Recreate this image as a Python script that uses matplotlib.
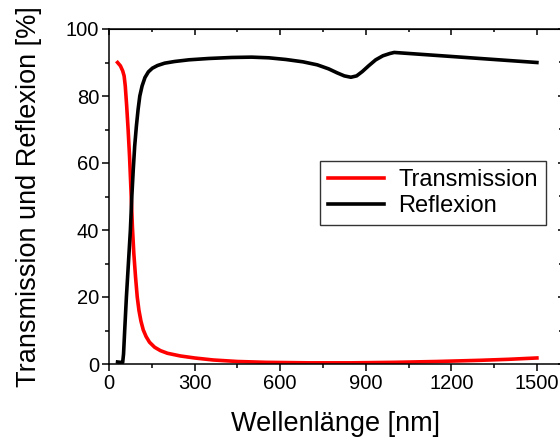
import numpy as np
import matplotlib
matplotlib.use('Agg')
import matplotlib.pyplot as plt
from matplotlib.ticker import MultipleLocator

plt.rcParams['font.family'] = ['Liberation Sans', 'DejaVu Sans']

# Transmission (red)
wl_trans = [30, 40, 48, 53, 57, 62, 67, 72, 77, 82, 87, 93, 99, 105, 112,
            120, 130, 142, 160, 180, 205, 250, 300, 365, 450, 550, 700, 850,
            1000, 1150, 1300, 1400, 1500]
transmission = [90, 89, 87.5, 86, 83, 77, 70, 62, 52, 41, 33, 26, 20, 16,
                 12.8, 10.2, 8.2, 6.5, 5.0, 4.0, 3.2, 2.4, 1.8, 1.2, 0.75,
                 0.5, 0.35, 0.35, 0.5, 0.75, 1.1, 1.4, 1.8]

# Reflexion (black)
wl_refl = [30, 40, 48, 51, 55, 61, 68, 75, 80, 85, 90, 96, 102, 108, 116,
           126, 138, 152, 170, 195, 230, 280, 350, 430, 500, 560, 620, 680,
           730, 770, 800, 825, 848, 868, 888, 910, 935, 960, 985, 1000, 1100,
           1200, 1300, 1400, 1500]
reflexion = [0.6, 0.5, 0.5, 3, 10, 20, 30, 40, 50, 58, 65, 71, 76, 80, 83,
             85.5, 87.2, 88.3, 89.1, 89.8, 90.3, 90.8, 91.2, 91.5, 91.6, 91.4,
             90.9, 90.2, 89.3, 88.1, 86.9, 86.0, 85.6, 86.0, 87.3, 89.0, 90.8,
             92.0, 92.7, 93.0, 92.4, 91.8, 91.2, 90.6, 90.0]

fig = plt.figure(figsize=(5.6, 4.42), dpi=100)
ax = fig.add_axes([109 / 560, 78 / 442, 453 / 560, 335 / 442])

ax.plot(wl_trans, transmission, color='#ff0000', lw=2.6, label='Transmission',
        solid_joinstyle='round')
ax.plot(wl_refl, reflexion, color='black', lw=2.6, label='Reflexion',
        solid_joinstyle='round')

ax.set_xlim(0, 1588)
ax.set_ylim(0, 100)
ax.xaxis.set_major_locator(MultipleLocator(300))
ax.xaxis.set_minor_locator(MultipleLocator(150))
ax.yaxis.set_major_locator(MultipleLocator(20))
ax.yaxis.set_minor_locator(MultipleLocator(10))
ax.tick_params(which='major', direction='out', length=5, width=1.1,
               labelsize=14.5, pad=2)
ax.tick_params(which='minor', direction='out', length=3, width=1.1)
for s in ax.spines.values():
    s.set_linewidth(1.1)

# mirrored ticks on top and right, pointing inward
top = ax.secondary_xaxis('top')
top.xaxis.set_major_locator(MultipleLocator(300))
top.xaxis.set_minor_locator(MultipleLocator(150))
top.tick_params(which='major', direction='in', length=4.5, width=1.1, labeltop=False)
top.tick_params(which='minor', direction='in', length=2.5, width=1.1)
right = ax.secondary_yaxis('right')
right.yaxis.set_major_locator(MultipleLocator(20))
right.yaxis.set_minor_locator(MultipleLocator(10))
right.tick_params(which='major', direction='in', length=3, width=1.1, labelright=False)
right.tick_params(which='minor', direction='in', length=2, width=1.1)

ax.set_xlabel('Wellenlänge [nm]', fontsize=19.5, labelpad=13)
ax.set_ylabel('Transmission und Reflexion [%]', fontsize=19.5, labelpad=17)

leg = ax.legend(loc='upper left', bbox_to_anchor=(0.466, 0.606), borderaxespad=0,
                fontsize=17, frameon=True, fancybox=False, handlelength=2.35,
                handletextpad=0.6, borderpad=0.35, labelspacing=0.15)
leg.get_frame().set_edgecolor('black')
leg.get_frame().set_linewidth(1.0)

fig.savefig('out.png', dpi=100)
